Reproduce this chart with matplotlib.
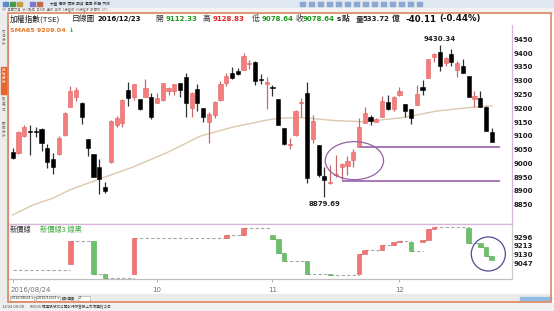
import numpy as np
import matplotlib.pyplot as plt
from matplotlib.patches import Ellipse, Rectangle

plt.rcParams['font.family'] = ['DejaVu Sans']
CJK = ['Noto Sans CJK TC', 'DejaVu Sans']

# daily OHLC of 加權指數, 2016/08/24 .. 2016/12/23
opens = [9043, 9036, 9099, 9117, 9116, 9124, 9057, 9016, 9034, 9103,
         9206, 9242, 9220, 9087, 9033, 8986, 8913, 9004, 9141, 9145,
         9266, 9242, 9232, 9242, 9242, 9220, 9230, 9262, 9264, 9290,
         9314, 9202, 9269, 9200, 9151, 9176, 9230, 9290, 9327, 9336,
         9339, 9361, 9367, 9306, 9287, 9277, 9232, 9127, 9068, 9103,
         9218, 9254, 9090, 9066, 8956, 8928, 8958, 8986, 8992, 9012,
         9061, 9148, 9167, 9151, 9170, 9224, 9196, 9247, 9215, 9196,
         9212, 9278, 9311, 9387, 9403, 9363, 9397, 9339, 9353, 9317,
         9232, 9236, 9206, 9112.33]
highs = [9055, 9117, 9139, 9139, 9133, 9130, 9069, 9037, 9099, 9186,
         9281, 9278, 9222, 9089, 9035, 9015, 8934, 9158, 9172, 9232,
         9294, 9289, 9234, 9305, 9254, 9256, 9292, 9278, 9288, 9293,
         9329, 9258, 9287, 9202, 9188, 9226, 9299, 9326, 9351, 9346,
         9401, 9375, 9371, 9323, 9314, 9284, 9234, 9128, 9091, 9193,
         9236, 9296, 9176, 9067, 8988, 8995, 9030, 9003, 9027, 9051,
         9163, 9206, 9175, 9163, 9244, 9248, 9243, 9278, 9217, 9198,
         9284, 9302, 9379, 9401, 9430.34, 9385, 9414, 9373, 9377, 9318,
         9262, 9264, 9208, 9128.83]
lows = [9016, 9034, 9097, 9030, 9097, 9046, 8982, 8960, 9030, 9100,
        9203, 9226, 9143, 9027, 8949, 8888, 8891, 9003, 9133, 9133,
        9208, 9230, 9193, 9240, 9160, 9218, 9228, 9248, 9248, 9242,
        9167, 9167, 9191, 9151, 9075, 9163, 9228, 9282, 9305, 9320,
        9338, 9341, 9284, 9288, 9196, 9245, 9139, 9067, 9051, 9101,
        9169, 8928, 9073, 8952, 8879.69, 8925, 8950, 8937, 8958, 8988,
        9060, 9145, 9139, 9149, 9168, 9193, 9191, 9244, 9167, 9142,
        9210, 9248, 9310, 9369, 9336, 9353, 9353, 9315, 9327, 9240,
        9203, 9203, 9118, 9078.64]
closes = [9018, 9115, 9133, 9115, 9114, 9073, 9004, 8988, 9093, 9184,
          9262, 9266, 9167, 9055, 8950, 8942, 8901, 9155, 9163, 9230,
          9236, 9287, 9196, 9272, 9167, 9236, 9290, 9272, 9287, 9266,
          9220, 9256, 9220, 9167, 9178, 9224, 9287, 9318, 9309, 9324,
          9389, 9365, 9300, 9304, 9294, 9275, 9139, 9070, 9072, 9191,
          9222, 8946, 9155, 8958, 8940, 8932, 8962, 8997, 9010, 9043,
          9133, 9181, 9155, 9161, 9227, 9196, 9242, 9264, 9190, 9163,
          9250, 9266, 9377, 9397, 9353, 9381, 9369, 9363, 9329, 9242,
          9244, 9206, 9118.75, 9078.64]

# SMA65 (position in trading days, value)
sma_pos = [0, 3.5, 7, 10, 15, 21, 26.7, 32.5, 38, 44, 46, 50, 56, 60.7, 67.6, 73.5, 79.3, 83]
sma_val = [8813, 8849, 8874, 8905, 8943, 8988, 9039, 9099, 9131, 9157, 9164, 9166,
           9155, 9151, 9166, 9190, 9203, 9209.04]

# 新價線 (three-line break) bricks: day, from, to
nb_pos = [10, 14, 16, 21, 37, 40, 45, 46, 47, 51, 55, 60, 61, 64, 66, 67, 69, 71, 72, 73, 79, 81, 82, 83]
nb_from = [9038, 9262, 8945, 8945, 9287, 9318, 9318, 9277, 9145, 9069, 8944, 8940,
           9133, 9178, 9224, 9246, 9246, 9246, 9268, 9378, 9386, 9240, 9203, 9118]
nb_to = [9262, 8945, 8904, 9287, 9318, 9389, 9277, 9145, 9069, 8944, 8932, 9133,
         9178, 9224, 9246, 9264, 9160, 9268, 9378, 9398, 9244, 9203, 9118, 9079]
nb_start = 8983

date_pos = [0, 25, 45, 67]
date_labels = ['2016/08/24', '10', '11', '12']
price_ticks = list(range(8850, 9451, 50))
nb_ticks = [9296, 9213, 9130, 9047]

# hand drawn marks on the chart
lines_level = [9061, 8937]
lines_start = [60, 57]
lines_end = 84.5

W, H = 554, 311


def box(x0, y0, x1, y1):
    return [x0 / W, 1 - y1 / H, (x1 - x0) / W, (y1 - y0) / H]


fig = plt.figure(figsize=(W / 100, H / 100), dpi=100)

# window chrome behind the charts
ui = fig.add_axes([0, 0, 1, 1])
ui.set_xlim(0, W)
ui.set_ylim(H, 0)
ui.axis('off')
ui.add_patch(Rectangle((0, 0), W, 8, color='#dfe7f1'))
ui.add_patch(Rectangle((0, 8), W, 5, color='#f3f3f3'))
ui.add_patch(Rectangle((0, 13), 7.5, 290, color='#ececec'))
ui.add_patch(Rectangle((0.5, 67), 6.5, 27, color='#e8662e'))
ui.add_patch(Rectangle((8, 294), 543, 8, color='#ebebeb'))
ui.add_patch(Rectangle((0, 303), W, 8, color='#f1f1f1'))
for i, xx in enumerate([3, 10, 17, 30, 37]):
    ui.add_patch(Rectangle((xx, 2), 5, 4, color=['#5a8ac8', '#4a9a4a', '#c8a040', '#7a7ac8', '#c86a4a'][i]))
ui.text(50, 4, '大盤  個股  類股  期貨  選擇  新聞  內線', family=CJK, fontsize=2.6,
        color='#303030', va='center')
for xx in range(300, 420, 9):
    ui.add_patch(Rectangle((xx, 2), 5, 4, color='#8aa8d0'))
ui.text(2, 10.5, 'SP  集團交易  法人動向  日K線  週線  月線  5分鐘線  60分鐘線  新價線  OTC  ...',
        family=CJK, fontsize=2.3, color='#707070', va='center')
for yy, t in [(30, '市場分析'), (68, '技術分析'), (96, '資金流向'), (122, '籌碼分析')]:
    ui.text(3.8, yy, '\n'.join(t), family=CJK, fontsize=2.5, va='top', ha='center',
            color='white' if t == '技術分析' else '#777777', linespacing=1.0)
for xx, t in [(10, '2016/08/24 ▾'), (36, '2016/12/23 ▾')]:
    ui.add_patch(Rectangle((xx, 295.5), 24, 5, facecolor='white', edgecolor='#a0a0a0', lw=0.4))
    ui.text(xx + 1, 298, t, fontsize=2.4, va='center', color='#303030')
ui.text(34, 298, '~', fontsize=2.6, va='center')
ui.text(62, 298, '資料筆數', family=CJK, fontsize=2.4, va='center', color='#303030')
ui.add_patch(Rectangle((78, 295.5), 12, 5, facecolor='white', edgecolor='#a0a0a0', lw=0.4))
ui.text(79, 298, '2', fontsize=2.4, va='center')
for xx in range(520, 549, 4):
    ui.add_patch(Rectangle((xx, 296.5), 2.5, 3, color='#8fbce4'))
ui.text(2, 307, '12/24 09:00', fontsize=2.6, va='center', color='#404040')
ui.text(30, 307, '603166:福達股份非公開發行限售股上市流通的公告', family=CJK, fontsize=2.6,
        va='center', color='#404040')

# main candlestick chart
ax = fig.add_axes(box(8, 25, 512, 224))
x = np.arange(len(closes))
o = np.array(opens)
h = np.array(highs)
l = np.array(lows)
c = np.array(closes)
up = c >= o
ax.vlines(x[up], l[up], h[up], color='#c86868', lw=0.9, zorder=2)
ax.vlines(x[~up], l[~up], h[~up], color='#303030', lw=0.9, zorder=2)
body = np.maximum(np.abs(c - o), 2.5)
bottom = np.minimum(o, c)
ax.bar(x[up], body[up], 0.72, bottom[up], color='#f47e7e', edgecolor='#e06262', lw=0.4, zorder=3)
ax.bar(x[~up], body[~up], 0.72, bottom[~up], color='#000000', edgecolor='#000000', lw=0.4, zorder=3)
ax.plot(sma_pos, sma_val, color='#dcc8ae', lw=1.0, zorder=1)

for lev, st in zip(lines_level, lines_start):
    ax.hlines(lev, st, lines_end, color='#a878b8', lw=1.4, zorder=4)
ax.add_patch(Ellipse((59.2, 9010), 10.1, 138, fill=False, edgecolor='#9462a4', lw=0.9, zorder=5))

ih = int(np.argmax(h))
il = int(np.argmin(l))
ax.annotate(f'{h[ih]:.2f}', (ih, h[ih]), xytext=(0, 2), textcoords='offset points',
            ha='center', va='bottom', fontsize=5, fontweight='bold', color='#202020')
ax.annotate(f'{l[il]:.2f}', (il, l[il]), xytext=(0, -3), textcoords='offset points',
            ha='center', va='top', fontsize=5, fontweight='bold', color='#202020')

ax.set_xlim(-0.81, 86.5)
ax.set_ylim(8780.3, 9501.8)
ax.yaxis.tick_right()
ax.set_yticks(price_ticks)
ax.set_yticklabels([str(v) for v in price_ticks], fontsize=5, fontweight='bold', color='#202020')
ax.tick_params(axis='y', length=0, pad=1.5)
ax.set_xticks([])
ax.spines['top'].set_visible(False)
ax.spines['left'].set_color('#c9a3c9')
ax.spines['right'].set_color('#d9b3d9')
ax.spines['bottom'].set_color('#d9b3d9')
for s in ax.spines.values():
    s.set_linewidth(0.9)

# 新價線 panel
ax2 = fig.add_axes(box(8, 224, 512, 279))
levels = [nb_start] + nb_to[:-1]
starts = [0] + nb_pos[:-1]
ax2.hlines(levels, starts, nb_pos, color='#a8a8a8', lw=0.8, linestyles=(0, (3, 2)))
nb_col = ['#f27474' if b > a else '#6cc06c' for a, b in zip(nb_from, nb_to)]
nb_edge = ['#e05858' if b > a else '#4ea84e' for a, b in zip(nb_from, nb_to)]
ax2.bar(nb_pos, np.array(nb_to) - np.array(nb_from), 0.8, nb_from, color=nb_col,
        edgecolor=nb_edge, lw=0.4, zorder=3)
ax2.add_patch(Ellipse((82.4, 9136), 5.9, 326, fill=False, edgecolor='#4d4d94', lw=0.9, zorder=4))
ax2.set_xlim(-0.81, 86.5)
ax2.set_ylim(8896.5, 9423)
ax2.yaxis.tick_right()
ax2.set_yticks(nb_ticks)
ax2.set_yticklabels([str(v) for v in nb_ticks], fontsize=5, fontweight='bold', color='#202020')
ax2.tick_params(axis='y', length=0, pad=1.5)
ax2.set_xticks(date_pos)
ax2.set_xticklabels([])
ax2.tick_params(axis='x', length=2.5, color='#a0a0a0', width=0.6)
for p, t in zip(date_pos, date_labels):
    ax2.text(p - (0.45 if p == 0 else 0), -0.14, t, transform=ax2.get_xaxis_transform(),
             ha='left' if p == 0 else 'center', va='top', fontsize=5, color='#707070')
ax2.spines['top'].set_color('#d9b3d9')
ax2.spines['left'].set_color('#c9a3c9')
ax2.spines['right'].set_color('#cccccc')
ax2.spines['bottom'].set_color('#c0c0c0')
for s in ax2.spines.values():
    s.set_linewidth(0.9)

# texts and frame on top
top = fig.add_axes([0, 0, 1, 1])
top.set_xlim(0, W)
top.set_ylim(H, 0)
top.axis('off')
top.patch.set_alpha(0)
top.add_patch(Rectangle((7.5, 12.5), 543.5, 289.5, fill=False, edgecolor='#dd8660', lw=1.2))

ty = 19
parts = [
    (10, '加權指數(TSE)', '#202020', 'normal', CJK),
    (72, '日線圖', '#202020', 'normal', CJK),
    (97, '2016/12/23', '#101010', 'bold', None),
    (155, '開', '#303030', 'normal', CJK),
    (166, '9112.33', '#1f9a1f', 'bold', None),
    (203, '高', '#303030', 'normal', CJK),
    (213, '9128.83', '#e02424', 'bold', None),
    (252, '低', '#303030', 'normal', CJK),
    (262, '9078.64', '#1f9a1f', 'bold', None),
    (296, '收', '#303030', 'normal', CJK),
    (303, '9078.64', '#1f9a1f', 'bold', None),
    (337, 's', '#202020', 'bold', None),
    (342, '點', '#303030', 'bold', CJK),
    (356, '量', '#303030', 'bold', CJK),
    (363, '533.72', '#202020', 'bold', None),
    (392, '億', '#303030', 'bold', CJK),
    (405, '-40.11', '#101010', 'bold', None),
    (439, '(-0.44%)', '#101010', 'bold', None),
]
for px, t, col, wt, fam in parts:
    kw = {'family': fam} if fam else {}
    fs = 5.6 if fam else 5.0
    if t in ('-40.11', '(-0.44%)'):
        fs = 6.2
    top.text(px, ty, t, color=col, fontweight=wt, fontsize=fs, va='center', ha='left', **kw)

top.text(10, 30, 'SMA65 9209.04', color='#e8761e', fontweight='bold', fontsize=4.6, va='center')
top.text(69, 30, '↓', color='#2a9a2a', fontweight='bold', fontsize=4.6, va='center')
top.text(10, 230, '新價線', family=CJK, color='#303030', fontsize=5.2, va='center')
top.text(40, 230, '新價線3 線黑', family=CJK, color='#3aa83a', fontsize=5.2, va='center')

fig.savefig('out.png', dpi=100)
